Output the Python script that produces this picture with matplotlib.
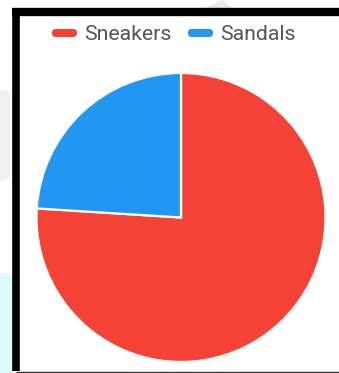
import matplotlib
matplotlib.use("Agg")
import matplotlib.pyplot as plt
from matplotlib.patches import FancyBboxPatch, Rectangle, Polygon

# Data
categories = ["Sneakers", "Sandals"]
values = [76, 24]
colors = ["#F44336", "#2196F3"]

W, H = 339, 373
fig = plt.figure(figsize=(W / 100, H / 100), dpi=100)
fig.patch.set_facecolor("white")


def px(x, y):
    """Pixel position measured from the top-left corner -> figure fraction."""
    return x / W, 1 - y / H


# faint decorations behind the frame
fig.patches.append(FancyBboxPatch((-0.05, 1 - 180 / H), 0.08, 90 / H,
                                  boxstyle="round,pad=0,rounding_size=0.02",
                                  transform=fig.transFigure, facecolor="#EEF0F2",
                                  edgecolor="none", zorder=0))
fig.patches.append(FancyBboxPatch((-0.05, -0.05), 0.09, 0.05 + 100 / H,
                                  boxstyle="round,pad=0,rounding_size=0.03",
                                  transform=fig.transFigure, facecolor="#DDFBFD",
                                  edgecolor="none", zorder=0))
fig.patches.append(Polygon([px(205, 8), px(222, 0), px(232, 8)], closed=True,
                           transform=fig.transFigure, facecolor="#E6EAEE",
                           edgecolor="none", zorder=0))

# chart panel with thick black frame on top/left
fig.patches.append(Rectangle(px(15.5, 371), (W - 15.5) / W, (371 - 12) / H,
                             transform=fig.transFigure, facecolor="white",
                             edgecolor="none", zorder=1))
fig.lines.append(plt.Line2D([px(15.5, 0)[0]] * 2, [px(0, 371)[1], px(0, 12)[1]],
                            transform=fig.transFigure, color="black", lw=5.5,
                            solid_capstyle="butt", zorder=2))
fig.lines.append(plt.Line2D([px(12, 0)[0], 1.0], [px(0, 11.5)[1]] * 2,
                            transform=fig.transFigure, color="black", lw=6.0,
                            solid_capstyle="butt", zorder=2))
fig.lines.append(plt.Line2D([px(15.5, 0)[0], 1.0], [px(0, 371.5)[1]] * 2,
                            transform=fig.transFigure, color="#333333", lw=1.0,
                            solid_capstyle="butt", zorder=2))

# pie
cx, cy, r = 181, 217.5, 144.5
ax = fig.add_axes([(cx - r) / W, (H - cy - r) / H, 2 * r / W, 2 * r / H])
ax.set_zorder(3)
ax.pie(values, colors=colors, startangle=90, counterclock=False, radius=1,
       wedgeprops=dict(edgecolor="white", linewidth=1.6))
ax.set_xlim(-1, 1)
ax.set_ylim(-1, 1)
ax.set_aspect("equal")
ax.axis("off")

# legend: rounded pill markers followed by labels
legend_y = 33
pill_x = [52, 188]
for name, col, x0 in zip(categories, colors, pill_x):
    lx, ly = px(x0, legend_y + 4)
    fig.patches.append(FancyBboxPatch((lx, ly), 25 / W, 8 / H,
                                      boxstyle="round,pad=0,rounding_size=0.011",
                                      transform=fig.transFigure, facecolor=col,
                                      edgecolor="none", zorder=4,
                                      mutation_aspect=W / H))
    tx, ty = px(x0 + 32, legend_y)
    fig.text(tx, ty, name, fontsize=15.3, family="Roboto", color="#555555",
             ha="left", va="center_baseline", zorder=5)

fig.savefig("out.png", dpi=100, facecolor=fig.get_facecolor())
